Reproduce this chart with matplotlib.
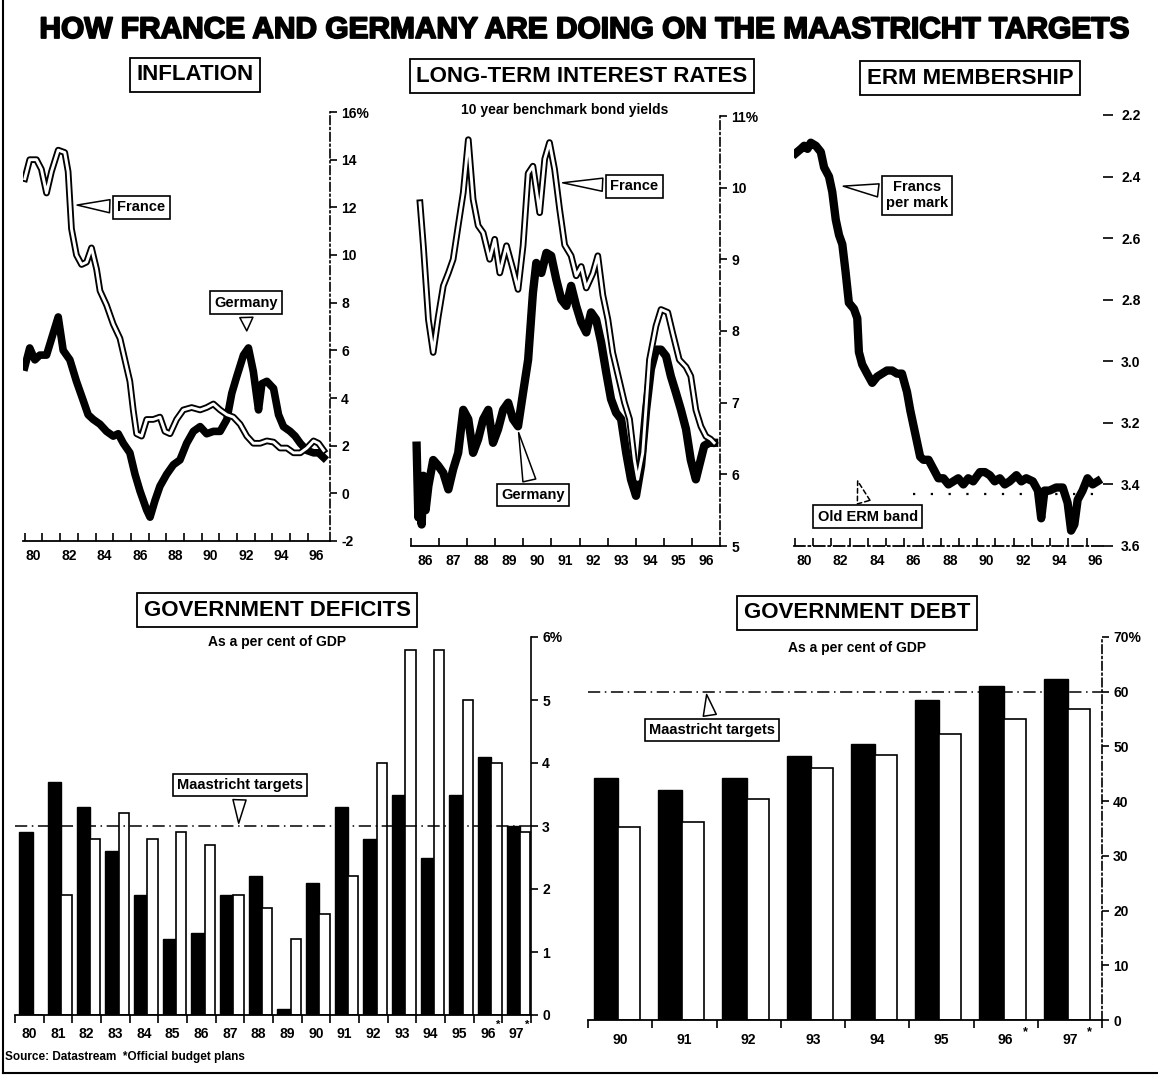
import numpy as np
import matplotlib
matplotlib.use("Agg")
import matplotlib.pyplot as plt
from matplotlib.lines import Line2D
import matplotlib.patheffects as pe

plt.rcParams['font.family'] = ['Liberation Sans', 'DejaVu Sans']
plt.rcParams['font.weight'] = 'bold'

# ---- inflation, % ----
inf_fr_t = [1980.0, 1980.28, 1980.66, 1980.94, 1981.23, 1981.51, 1981.89, 1982.26, 1982.45, 1982.64,
            1982.92, 1983.21, 1983.49, 1983.77, 1984.06, 1984.25, 1984.62, 1985.0, 1985.38, 1985.66,
            1985.94, 1986.13, 1986.32, 1986.6, 1986.89, 1987.26, 1987.64, 1987.92, 1988.21, 1988.58,
            1988.96, 1989.43, 1989.91, 1990.28, 1990.66, 1991.04, 1991.42, 1991.79, 1992.17, 1992.55,
            1992.92, 1993.3, 1993.68, 1994.06, 1994.43, 1994.81, 1995.19, 1995.57, 1995.94, 1996.32,
            1996.6, 1996.89]
inf_fr = [13.2, 14.0, 14.0, 13.6, 12.6, 13.5, 14.4, 14.3, 13.5, 11.1,
          10.0, 9.6, 9.7, 10.3, 9.4, 8.5, 7.9, 7.1, 6.5, 5.6,
          4.7, 3.5, 2.5, 2.4, 3.1, 3.1, 3.2, 2.6, 2.5, 3.1,
          3.5, 3.6, 3.5, 3.6, 3.75, 3.5, 3.3, 3.2, 2.9, 2.4,
          2.1, 2.1, 2.2, 2.15, 1.9, 1.9, 1.7, 1.7, 1.9, 2.2,
          2.1, 1.8]
inf_de_t = [1980.0, 1980.28, 1980.57, 1980.85, 1981.23, 1981.6, 1981.89, 1982.17, 1982.55, 1982.92,
            1983.3, 1983.58, 1983.87, 1984.25, 1984.62, 1985.0, 1985.28, 1985.57, 1985.94, 1986.23,
            1986.51, 1986.89, 1987.08, 1987.36, 1987.64, 1988.02, 1988.4, 1988.77, 1989.15, 1989.53,
            1989.91, 1990.28, 1990.66, 1991.04, 1991.42, 1991.7, 1991.98, 1992.36, 1992.64, 1992.92,
            1993.21, 1993.4, 1993.68, 1994.06, 1994.34, 1994.62, 1995.0, 1995.28, 1995.57, 1995.94,
            1996.32, 1996.6, 1996.89]
inf_de = [5.3, 6.1, 5.6, 5.8, 5.8, 6.7, 7.4, 6.0, 5.6, 4.7,
          3.9, 3.3, 3.1, 2.9, 2.6, 2.4, 2.5, 2.1, 1.7, 0.8,
          0.1, -0.7, -1.0, -0.3, 0.3, 0.8, 1.2, 1.4, 2.1, 2.6,
          2.8, 2.5, 2.6, 2.6, 3.1, 4.2, 4.9, 5.8, 6.1, 5.1,
          3.5, 4.6, 4.7, 4.4, 3.3, 2.8, 2.6, 2.4, 2.1, 1.8,
          1.7, 1.7, 1.5]

# ---- 10 year bond yields, % ----
bond_fr_t = [1986.32, 1986.44, 1986.62, 1986.79, 1986.97, 1987.15, 1987.33, 1987.5, 1987.68, 1987.86,
             1988.04, 1988.21, 1988.39, 1988.57, 1988.8, 1988.98, 1989.16, 1989.4, 1989.63, 1989.81,
             1989.99, 1990.17, 1990.34, 1990.58, 1990.76, 1990.93, 1991.11, 1991.29, 1991.47, 1991.7,
             1991.88, 1992.06, 1992.24, 1992.47, 1992.65, 1992.83, 1993.01, 1993.18, 1993.42, 1993.6,
             1993.78, 1993.95, 1994.07, 1994.25, 1994.49, 1994.72, 1994.9, 1995.14, 1995.31, 1995.55,
             1995.79, 1995.96, 1996.14, 1996.32, 1996.5, 1996.67, 1996.79]
bond_fr = [9.79, 9.19, 8.16, 7.70, 8.2, 8.63, 8.81, 9.0, 9.47, 9.93,
           10.67, 9.84, 9.47, 9.37, 9.0, 9.28, 8.81, 9.19, 8.86, 8.58,
           9.19, 10.2, 10.3, 9.65, 10.4, 10.63, 10.26, 9.7, 9.2, 9.05,
           8.77, 8.9, 8.6, 8.8, 9.05, 8.5, 8.16, 7.7, 7.3, 7.0,
           6.77, 6.2, 5.93, 6.3, 7.6, 8.07, 8.3, 8.26, 7.98, 7.6,
           7.5, 7.37, 6.9, 6.67, 6.53, 6.49, 6.44]
bond_de_t = [1986.2, 1986.26, 1986.32, 1986.38, 1986.44, 1986.52, 1986.62, 1986.79, 1986.97, 1987.15,
             1987.33, 1987.5, 1987.68, 1987.86, 1988.04, 1988.21, 1988.39, 1988.57, 1988.75, 1988.92,
             1989.1, 1989.28, 1989.46, 1989.63, 1989.81, 1989.99, 1990.17, 1990.34, 1990.46, 1990.64,
             1990.82, 1990.99, 1991.17, 1991.35, 1991.53, 1991.7, 1991.88, 1992.06, 1992.24, 1992.41,
             1992.59, 1992.77, 1992.95, 1993.12, 1993.3, 1993.48, 1993.66, 1993.83, 1994.01, 1994.19,
             1994.37, 1994.54, 1994.72, 1994.9, 1995.08, 1995.25, 1995.43, 1995.61, 1995.79, 1995.96,
             1996.14, 1996.26, 1996.44, 1996.62, 1996.79]
bond_de = [6.4, 5.4, 5.9, 5.3, 5.98, 5.5, 5.84, 6.2, 6.12, 6.02,
           5.79, 6.07, 6.3, 6.9, 6.77, 6.3, 6.49, 6.77, 6.9, 6.44,
           6.63, 6.9, 7.0, 6.77, 6.67, 7.14, 7.6, 8.53, 8.95, 8.81,
           9.09, 9.05, 8.72, 8.44, 8.35, 8.63, 8.35, 8.12, 7.98, 8.26,
           8.16, 7.84, 7.42, 7.05, 6.86, 6.77, 6.3, 5.93, 5.7, 6.12,
           6.9, 7.47, 7.74, 7.74, 7.65, 7.37, 7.14, 6.9, 6.63, 6.2,
           5.93, 6.12, 6.4, 6.44, 6.44]

# ---- francs per mark ----
erm_t = [1980.05, 1980.33, 1980.51, 1980.69, 1980.87, 1981.15, 1981.42, 1981.6, 1981.87, 1982.05,
         1982.24, 1982.42, 1982.6, 1982.78, 1982.96, 1983.24, 1983.42, 1983.51, 1983.69, 1983.96,
         1984.24, 1984.51, 1984.78, 1985.05, 1985.33, 1985.6, 1985.87, 1986.15, 1986.33, 1986.51,
         1986.69, 1986.87, 1987.05, 1987.33, 1987.6, 1987.87, 1988.15, 1988.42, 1988.69, 1988.96,
         1989.24, 1989.51, 1989.78, 1990.15, 1990.42, 1990.69, 1990.96, 1991.24, 1991.51, 1991.78,
         1992.15, 1992.42, 1992.69, 1993.05, 1993.33, 1993.51, 1993.69, 1993.96, 1994.33, 1994.69,
         1994.96, 1995.15, 1995.33, 1995.51, 1995.78, 1996.05, 1996.33, 1996.6]
erm_rate = [2.324, 2.31, 2.30, 2.31, 2.29, 2.30, 2.32, 2.37, 2.40, 2.45,
            2.54, 2.59, 2.62, 2.71, 2.81, 2.83, 2.86, 2.97, 3.01, 3.04,
            3.07, 3.05, 3.04, 3.03, 3.03, 3.04, 3.04, 3.10, 3.16, 3.21,
            3.26, 3.31, 3.32, 3.32, 3.35, 3.38, 3.38, 3.40, 3.39, 3.38,
            3.40, 3.38, 3.39, 3.36, 3.36, 3.37, 3.39, 3.38, 3.40, 3.39,
            3.37, 3.39, 3.38, 3.39, 3.42, 3.51, 3.42, 3.42, 3.41, 3.41,
            3.46, 3.55, 3.53, 3.45, 3.42, 3.38, 3.40, 3.39]
erm_band = 3.43

# ---- deficits and debt, % of GDP (black = Germany, white = France) ----
def_years = ['80', '81', '82', '83', '84', '85', '86', '87', '88', '89',
             '90', '91', '92', '93', '94', '95', '96', '97']
def_de = [2.9, 3.7, 3.3, 2.6, 1.9, 1.2, 1.3, 1.9, 2.2, 0.1, 2.1, 3.3, 2.8, 3.5, 2.5, 3.5, 4.1, 3.0]
def_fr = [0.0, 1.9, 2.8, 3.2, 2.8, 2.9, 2.7, 1.9, 1.7, 1.2, 1.6, 2.2, 4.0, 5.8, 5.8, 5.0, 4.0, 2.9]
debt_years = ['90', '91', '92', '93', '94', '95', '96', '97']
debt_de = [44.2, 42.0, 44.2, 48.3, 50.5, 58.4, 61.0, 62.4]
debt_fr = [35.3, 36.2, 40.4, 46.0, 48.4, 52.2, 55.0, 56.8]
starred = ['96', '97']
target_def = 3
target_debt = 60

W, H = 1158, 1078
fig = plt.figure(figsize=(W / 100, H / 100), dpi=100)
fig.patch.set_facecolor('white')


def px(x0, y0, x1, y1):
    return [x0 / W, 1 - y1 / H, (x1 - x0) / W, (y1 - y0) / H]


def callout(ax, text, xy, xytext, dashed=False):
    ax.annotate(text, xy=xy, xytext=xytext, ha='center', va='center', fontsize=10.5,
                fontweight='bold', annotation_clip=False, zorder=6,
                bbox=dict(boxstyle='square,pad=0.3', fc='white', ec='black', lw=1.2),
                arrowprops=dict(arrowstyle='wedge,tail_width=0.9,shrink_factor=0.5',
                                fc='white', ec='black', lw=1.1,
                                ls=(0, (3, 2)) if dashed else '-'))


def line_axes(ax, xlim, ylim, yticks, ylabels, first, last, step, right_dash=True):
    ax.set_xlim(*xlim)
    ax.set_ylim(*ylim)
    for s in ['left', 'top']:
        ax.spines[s].set_visible(False)
    ax.spines['right'].set_linestyle((0, (5, 2, 1, 2)) if right_dash else '-')
    ax.spines['right'].set_linewidth(1.2)
    ax.spines['bottom'].set_linewidth(1.3)
    ax.yaxis.tick_right()
    ax.set_yticks(yticks)
    ax.set_yticklabels(ylabels)
    ax.tick_params(axis='y', direction='out', length=5, width=1.2, labelsize=10, pad=3)
    ax.set_xticks(np.arange(first, last + 1))
    ax.set_xticklabels([])
    ax.tick_params(axis='x', which='major', direction='in', length=6, width=1.2)
    labs = np.arange(first, last + 1, step)
    ax.set_xticks(labs + 0.5, minor=True)
    ax.set_xticklabels(['%02d' % (y % 100) for y in labs], minor=True)
    ax.tick_params(axis='x', which='minor', length=0, labelsize=10, pad=6)
    ax.patch.set_alpha(0)


def france(ax, t, v):
    ax.plot(t, v, color='black', lw=4.8, solid_joinstyle='round', zorder=3)
    ax.plot(t, v, color='white', lw=2.1, solid_joinstyle='round', zorder=4)


# ---- inflation ----
ax1 = fig.add_axes(px(23, 112, 330, 541))
line_axes(ax1, (1979.9, 1997.25), (-2, 16), range(-2, 17, 2),
          ['-2', '0', '2', '4', '6', '8', '10', '12', '14', '16%'], 1980, 1996, 2)
ax1.plot(inf_de_t, inf_de, color='black', lw=5.5, solid_joinstyle='round', zorder=2)
france(ax1, inf_fr_t, inf_fr)
callout(ax1, 'France', (1982.8, 12.1), (1986.6, 12.0))
callout(ax1, 'Germany', (1992.55, 6.7), (1992.5, 8.0))

# ---- long-term interest rates ----
ax2 = fig.add_axes(px(411, 116, 720, 546))
line_axes(ax2, (1986.0, 1997.0), (5, 11), range(5, 12),
          ['5', '6', '7', '8', '9', '10', '11%'], 1986, 1996, 1)
ax2.plot(bond_de_t, bond_de, color='black', lw=6, solid_joinstyle='round', zorder=2)
france(ax2, bond_fr_t, bond_fr)
callout(ax2, 'France', (1991.3, 10.07), (1993.95, 10.02))
callout(ax2, 'Germany', (1989.81, 6.62), (1990.33, 5.71))

# ---- ERM membership ----
ax3 = fig.add_axes(px(794, 115, 1103, 546))
line_axes(ax3, (1979.95, 1996.9), (3.6, 2.2), np.arange(2.2, 3.61, 0.2),
          ['%.1f' % v for v in np.arange(2.2, 3.61, 0.2)], 1980, 1996, 2)
ax3.spines['right'].set_visible(False)
ax3.spines['bottom'].set_linestyle((0, (6, 2, 1, 2)))
ax3.tick_params(axis='y', length=7, pad=6)
ax3.plot(erm_t, erm_rate, color='black', lw=6, solid_joinstyle='round', zorder=2)
ax3.hlines(erm_band, 1986.5, 1996.6, colors='black', lw=1.6, linestyles=(0, (1, 7)))
callout(ax3, 'Francs\nper mark', (1982.5, 2.43), (1986.7, 2.46))
callout(ax3, 'Old ERM band', (1983.4, 3.38), (1984.0, 3.505), dashed=True)


# ---- bar panels ----
def bar_axes(ax, n, ylim, yticks, ylabels, labels, right_dash):
    ax.set_xlim(-0.5, n - 0.5)
    ax.set_ylim(*ylim)
    for s in ['left', 'top']:
        ax.spines[s].set_visible(False)
    ax.spines['right'].set_linestyle((0, (5, 2, 1, 2)) if right_dash else '-')
    ax.spines['right'].set_linewidth(1.2)
    ax.spines['bottom'].set_linewidth(1.3)
    ax.yaxis.tick_right()
    ax.set_yticks(yticks)
    ax.set_yticklabels(ylabels)
    ax.tick_params(axis='y', direction='out', length=5, width=1.2, labelsize=10, pad=3)
    ax.set_xticks(np.arange(n + 1) - 0.5)
    ax.set_xticklabels([])
    ax.tick_params(axis='x', which='major', direction='out', length=6, width=1.2)
    ax.set_xticks(np.arange(n), minor=True)
    ax.set_xticklabels(labels, minor=True)
    ax.tick_params(axis='x', which='minor', length=0, labelsize=10, pad=9)
    ax.patch.set_alpha(0)


ax4 = fig.add_axes(px(15, 637, 531, 1015))
bar_axes(ax4, len(def_years), (0, 6), range(0, 7),
         ['0', '1', '2', '3', '4', '5', '6%'], def_years, False)
xd = np.arange(len(def_years))
ax4.bar(xd - 0.115, def_de, width=0.47, color='black', edgecolor='black', lw=1)
ax4.bar(xd + 0.30, def_fr, width=0.36, color='white', edgecolor='black', lw=1.2)
ax4.axhline(target_def, color='black', lw=1.1, ls=(0, (8, 3, 1, 3)), zorder=1)
callout(ax4, 'Maastricht targets', (7.3, 3.0), (7.35, 3.65))
for i, y in enumerate(def_years):
    if y in starred:
        ax4.text(i + 0.36, -0.012, '*', transform=ax4.get_xaxis_transform(),
                 ha='center', va='top', fontsize=8)

ax5 = fig.add_axes(px(588, 637, 1102, 1020))
bar_axes(ax5, len(debt_years), (0, 70), range(0, 71, 10),
         ['0', '10', '20', '30', '40', '50', '60', '70%'], debt_years, True)
xb = np.arange(len(debt_years))
ax5.bar(xb - 0.22, debt_de, width=0.38, color='black', edgecolor='black', lw=1)
ax5.bar(xb + 0.14, debt_fr, width=0.34, color='white', edgecolor='black', lw=1.2)
ax5.axhline(target_debt, color='black', lw=1.1, ls=(0, (8, 3, 1, 3)), zorder=1)
callout(ax5, 'Maastricht targets', (1.34, 60), (1.43, 53))
for i, y in enumerate(debt_years):
    if y in starred:
        ax5.text(i + 0.3, -0.015, '*', transform=ax5.get_xaxis_transform(),
                 ha='center', va='top', fontsize=9)

# ---- titles and frame ----
fig.text(0.505, 1 - 30 / H, 'HOW FRANCE AND GERMANY ARE DOING ON THE MAASTRICHT TARGETS',
         ha='center', va='center', fontsize=21.5, fontweight='bold',
         path_effects=[pe.withStroke(linewidth=1.3, foreground='black')])
box = dict(boxstyle='square,pad=0.3', fc='white', ec='black', lw=1.3)
for txt, cx, cy in [('INFLATION', 195, 75), ('LONG-TERM INTEREST RATES', 582, 76),
                    ('ERM MEMBERSHIP', 970, 78), ('GOVERNMENT DEFICITS', 277, 610),
                    ('GOVERNMENT DEBT', 857, 613)]:
    fig.text(cx / W, 1 - cy / H, txt, ha='center', va='center', fontsize=16,
             fontweight='bold', bbox=box)
fig.text(565 / W, 1 - 110 / H, '10 year benchmark bond yields', ha='center', va='center',
         fontsize=10, fontweight='bold')
fig.text(277 / W, 1 - 642 / H, 'As a per cent of GDP', ha='center', va='center',
         fontsize=10, fontweight='bold')
fig.text(857 / W, 1 - 648 / H, 'As a per cent of GDP', ha='center', va='center',
         fontsize=10, fontweight='bold')
fig.text(5 / W, 1 - 1057 / H, 'Source: Datastream  *Official budget plans', ha='left',
         va='center', fontsize=8.5, fontweight='bold')
fig.add_artist(Line2D([3 / W, 3 / W], [1 - 1073 / H, 1], color='black', lw=1.5))
fig.add_artist(Line2D([3 / W, 1], [1 - 1073 / H, 1 - 1073 / H], color='black', lw=1.5))

fig.savefig('out.png', dpi=100)
